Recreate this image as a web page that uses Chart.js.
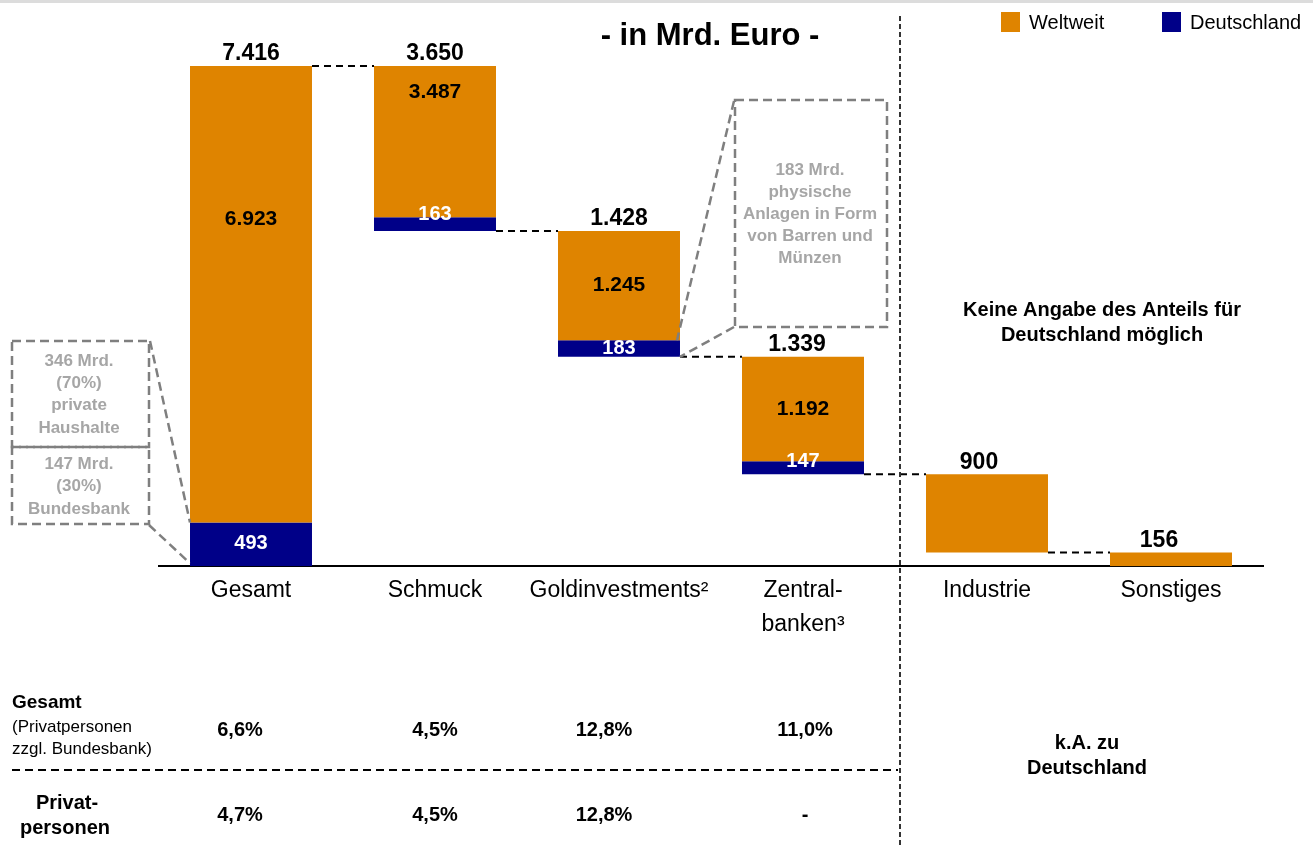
<!DOCTYPE html>
<html>
<head>
<meta charset="utf-8">
<script src="https://cdn.jsdelivr.net/npm/chart.js@4.4.1/dist/chart.umd.min.js"></script>
<style>
    html, body { margin: 0; padding: 0; background: #fff; }
    #goldchart { display: block; }
</style>
</head>
<body>
<canvas id="goldchart" width="1313" height="845"></canvas>
<script>
// --- data ---
const categories = [['Gesamt'], ['Schmuck'], ['Goldinvestments²'], ['Zentral-', 'banken³'], ['Industrie'], ['Sonstiges']];
const totalValues = [7416, 3650, 1428, 1339, 900, 156];
const weltValues = [6923, 3487, 1245, 1192, null, null];
const deValues = [493, 163, 183, 147, null, null];
// the original waterfall is not drawn to scale: bar ends as drawn
// (in Mrd. Euro units of the first bar)
const barFloor = [0, 4970, 3105, 1365, 205, 0];
const deCeiling = [650, 5175, 3350, 1557, null, null];
const barCeiling = [7416, 7416, 4970, 3105, 1365, 205];
const rowGesamt = ['6,6%', '4,5%', '12,8%', '11,0%'];
const rowPrivat = ['4,7%', '4,5%', '12,8%', '-'];

const FONT = '"Liberation Sans", Arial, sans-serif';
const ORANGE = '#DF8400';
const NAVY = '#000088';
const GREY_TEXT = '#a6a6a6';
const GREY_LINE = '#7f7f7f';

const weltBars = categories.map((c, i) => [deCeiling[i] != null ? deCeiling[i] : barFloor[i], barCeiling[i]]);
const deBars = categories.map((c, i) => deValues[i] == null ? null : [barFloor[i], deCeiling[i]]);

function fmt(v) {
    return String(v).replace(/\B(?=(\d{3})+(?!\d))/g, '.');
}

function text(ctx, str, x, y, size, opts) {
    opts = opts || {};
    ctx.save();
    ctx.font = (opts.bold ? 'bold ' : '') + size + 'px ' + FONT;
    ctx.fillStyle = opts.color || '#000';
    ctx.textAlign = opts.align || 'center';
    ctx.textBaseline = 'middle';
    ctx.fillText(str, x, y);
    ctx.restore();
}

function dashed(ctx, pts, color, width, dash) {
    ctx.save();
    ctx.strokeStyle = color;
    ctx.lineWidth = width;
    ctx.setLineDash(dash);
    ctx.beginPath();
    ctx.moveTo(pts[0][0], pts[0][1]);
    for (let i = 1; i < pts.length; i++) ctx.lineTo(pts[i][0], pts[i][1]);
    ctx.stroke();
    ctx.restore();
}

const extras = {
    id: 'extras',
    beforeDraw(chart) {
        const ctx = chart.ctx;
        ctx.save();
        ctx.fillStyle = '#dcdcdc';
        ctx.fillRect(0, 0, chart.width, 3);
        ctx.restore();
    },
    afterDraw(chart) {
        const ctx = chart.ctx;
        const yScale = chart.scales.y;
        const welt = chart.getDatasetMeta(0).data;
        const de = chart.getDatasetMeta(1).data;

        // connectors between the bars
        for (let i = 0; i < categories.length - 1; i++) {
            const a = welt[i], b = welt[i + 1];
            const yy = yScale.getPixelForValue(barCeiling[i + 1]);
            dashed(ctx, [[a.x + a.width / 2, yy], [b.x - b.width / 2, yy]], '#000', 2, [7, 5]);
        }

        // vertical separator
        dashed(ctx, [[900, 16], [900, 845]], '#333', 2, [5, 3]);

        // value labels
        const totalShift = [0, 0, 0, -6, -8, -12];
        const weltShift = [-75, -49, 0, 0];
        const deShift = [-1, -10, 0, -6];
        categories.forEach((c, i) => {
            const top = yScale.getPixelForValue(barCeiling[i]);
            const bar = welt[i];
            text(ctx, fmt(totalValues[i]), bar.x + totalShift[i], top - 12, 23, { bold: true });
            if (weltValues[i] != null) {
                text(ctx, fmt(weltValues[i]), bar.x, (bar.y + bar.base) / 2 + weltShift[i], 21, { bold: true });
            }
            if (deValues[i] != null) {
                const d = de[i];
                text(ctx, fmt(deValues[i]), d.x, (d.y + d.base) / 2 + deShift[i], 20, { bold: true, color: '#fff' });
            }
        });

        // title
        text(ctx, '- in Mrd. Euro -', 710, 36, 31, { bold: true });

        // legend
        chart.data.datasets.forEach((ds, i) => {
            const lx = [1001, 1162][i];
            ctx.save();
            ctx.fillStyle = ds.backgroundColor;
            ctx.fillRect(lx, 12, 19, 20);
            ctx.restore();
            text(ctx, ds.label, lx + 28, 23, 20, { align: 'left' });
        });

        // callout for Gesamt / Deutschland
        const g = de[0];
        const gl = g.x - g.width / 2;
        ctx.save();
        ctx.strokeStyle = GREY_LINE;
        ctx.lineWidth = 2.5;
        ctx.setLineDash([9, 5]);
        ctx.strokeRect(12, 341, 137, 106);
        ctx.strokeRect(12, 447, 137, 77);
        ctx.restore();
        dashed(ctx, [[150, 341], [gl, g.y]], GREY_LINE, 2.5, [9, 5]);
        dashed(ctx, [[149, 525], [gl, g.base - 3]], GREY_LINE, 2.5, [9, 5]);
        ['346 Mrd.', '(70%)', 'private', 'Haushalte'].forEach((s, k) => text(ctx, s, 79, 361 + k * 22.3, 17, { bold: true, color: GREY_TEXT }));
        ['147 Mrd.', '(30%)', 'Bundesbank'].forEach((s, k) => text(ctx, s, 79, 464 + k * 22.5, 17, { bold: true, color: GREY_TEXT }));

        // callout for Goldinvestments / Deutschland
        const gi = de[2];
        const gir = gi.x + gi.width / 2;
        ctx.save();
        ctx.strokeStyle = GREY_LINE;
        ctx.lineWidth = 2.5;
        ctx.setLineDash([9, 5]);
        ctx.strokeRect(735, 100, 152, 227);
        ctx.restore();
        dashed(ctx, [[734, 101], [gir - 3, gi.y]], GREY_LINE, 2.5, [9, 5]);
        dashed(ctx, [[734, 327], [gir, gi.base]], GREY_LINE, 2.5, [9, 5]);
        ['183 Mrd.', 'physische', 'Anlagen in Form', 'von Barren und', 'Münzen'].forEach((s, k) => text(ctx, s, 810, 170 + k * 22, 17, { bold: true, color: GREY_TEXT }));

        // right-hand notes
        text(ctx, 'Keine Angabe des Anteils für', 1102, 310, 20, { bold: true });
        text(ctx, 'Deutschland möglich', 1102, 335, 20, { bold: true });
        text(ctx, 'k.A. zu', 1087, 743, 20, { bold: true });
        text(ctx, 'Deutschland', 1087, 768, 20, { bold: true });

        // table below the chart
        text(ctx, 'Gesamt', 12, 703, 19, { bold: true, align: 'left' });
        text(ctx, '(Privatpersonen', 12, 727, 17, { align: 'left' });
        text(ctx, 'zzgl. Bundesbank)', 12, 749, 17, { align: 'left' });
        text(ctx, 'Privat-', 67, 803, 20, { bold: true });
        text(ctx, 'personen', 65, 828, 20, { bold: true });
        const colX = [240, 435, 604, 805];
        rowGesamt.forEach((s, k) => text(ctx, s, colX[k], 730, 20, { bold: true }));
        rowPrivat.forEach((s, k) => text(ctx, s, colX[k], 815, 20, { bold: true }));
        dashed(ctx, [[12, 770], [898, 770]], '#000', 2, [8, 5]);
    }
};

const ctx = document.getElementById('goldchart').getContext('2d');

const goldchart = new Chart(ctx, {
    type: 'bar',
    data: {
        labels: categories,
        datasets: [{
            label: 'Weltweit',
            data: weltBars,
            backgroundColor: ORANGE,
            grouped: false,
            barPercentage: 0.663,
            categoryPercentage: 1,
        }, {
            label: 'Deutschland',
            data: deBars,
            backgroundColor: NAVY,
            grouped: false,
            barPercentage: 0.663,
            categoryPercentage: 1,
        }]
    },
    options: {
        responsive: false,
        animation: false,
        layout: {
            padding: { left: 159, right: 50, top: 66, bottom: 196 },
        },
        plugins: {
            legend: { display: false },
            tooltip: { enabled: false },
        },
        scales: {
            x: {
                grid: { display: false, drawTicks: false },
                border: { display: true, color: '#000', width: 2 },
                ticks: {
                    color: '#000',
                    font: { family: FONT, size: 23, lineHeight: 1.45 },
                    padding: 8,
                    autoSkip: false,
                    maxRotation: 0,
                },
            },
            y: {
                display: false,
                min: 0,
                max: 7416,
            },
        },
    },
    plugins: [extras],
});
</script>
</body>
</html>
